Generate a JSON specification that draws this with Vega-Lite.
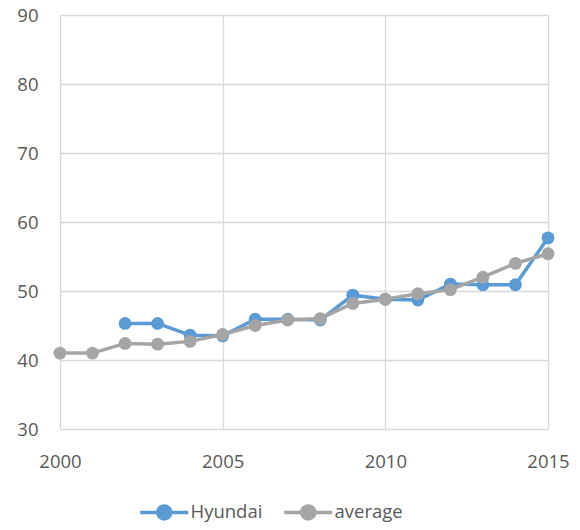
{
  "$schema": "https://vega.github.io/schema/vega-lite/v6.json",
  "width": 488,
  "height": 414,
  "autosize": {"type": "none"},
  "padding": {"left": 60, "top": 15, "right": 32, "bottom": 101},
  "background": "white",
  "config": {
    "view": {"stroke": null},
    "font": "Open Sans",
    "axis": {"labelFont": "Open Sans", "labelColor": "#595959", "labelFontSize": 18.5, "gridColor": "#d9d9d9", "gridWidth": 1.3, "domain": false, "ticks": false, "title": null, "labelFlush": false}
  },
  "data": {
    "values": [
      {"year": 2002, "series": "Hyundai", "value": 45.3},
      {"year": 2003, "series": "Hyundai", "value": 45.3},
      {"year": 2004, "series": "Hyundai", "value": 43.6},
      {"year": 2005, "series": "Hyundai", "value": 43.5},
      {"year": 2006, "series": "Hyundai", "value": 45.9},
      {"year": 2007, "series": "Hyundai", "value": 45.9},
      {"year": 2008, "series": "Hyundai", "value": 45.8},
      {"year": 2009, "series": "Hyundai", "value": 49.4},
      {"year": 2010, "series": "Hyundai", "value": 48.8},
      {"year": 2011, "series": "Hyundai", "value": 48.7},
      {"year": 2012, "series": "Hyundai", "value": 51.0},
      {"year": 2013, "series": "Hyundai", "value": 50.9},
      {"year": 2014, "series": "Hyundai", "value": 50.9},
      {"year": 2015, "series": "Hyundai", "value": 57.7},
      {"year": 2000, "series": "average", "value": 41.0},
      {"year": 2001, "series": "average", "value": 41.0},
      {"year": 2002, "series": "average", "value": 42.4},
      {"year": 2003, "series": "average", "value": 42.3},
      {"year": 2004, "series": "average", "value": 42.7},
      {"year": 2005, "series": "average", "value": 43.7},
      {"year": 2006, "series": "average", "value": 45.0},
      {"year": 2007, "series": "average", "value": 45.8},
      {"year": 2008, "series": "average", "value": 46.0},
      {"year": 2009, "series": "average", "value": 48.2},
      {"year": 2010, "series": "average", "value": 48.8},
      {"year": 2011, "series": "average", "value": 49.6},
      {"year": 2012, "series": "average", "value": 50.2},
      {"year": 2013, "series": "average", "value": 52.0},
      {"year": 2014, "series": "average", "value": 54.0},
      {"year": 2015, "series": "average", "value": 55.4}
    ]
  },
  "encoding": {
    "x": {"field": "year", "type": "quantitative", "scale": {"domain": [2000, 2015], "nice": false, "zero": false},
          "axis": {"values": [2000, 2005, 2010, 2015], "format": "d", "labelPadding": 23, "labelBaseline": "top"}},
    "y": {"field": "value", "type": "quantitative", "scale": {"domain": [30, 90], "nice": false, "zero": false},
          "axis": {"values": [30, 40, 50, 60, 70, 80, 90], "labelPadding": 22}},
    "color": {"field": "series", "type": "nominal", "title": null,
              "scale": {"domain": ["Hyundai", "average"], "range": ["#5B9BD5", "#A5A5A5"]},
              "legend": {"orient": "none", "direction": "horizontal", "legendX": 95, "legendY": 488,
                         "symbolType": "M-3.7,0L3.7,0M1,0A1,1,0,1,1,-1,0A1,1,0,1,1,1,0Z",
                         "symbolSize": 169, "symbolStrokeWidth": 3, "labelOffset": 17,
                         "labelFontSize": 18.5, "labelColor": "#595959", "labelFont": "Open Sans",
                         "columnPadding": 14,
                         "encode": {"symbols": {"update": {"shape": {"value": "M-3.7,0L3.7,0M1,0A1,1,0,1,1,-1,0A1,1,0,1,1,1,0Z"}, "fill": {"scale": "color", "field": "value"}, "stroke": {"scale": "color", "field": "value"}, "fillOpacity": {"value": 1}, "strokeWidth": {"value": 3.5}, "size": {"value": 169}}}}}}
  },
  "layer": [
    {"transform": [{"filter": "datum.series === 'Hyundai'"}], "mark": {"type": "line", "strokeWidth": 3.5}},
    {"transform": [{"filter": "datum.series === 'Hyundai'"}], "mark": {"type": "point", "filled": true, "opacity": 1, "size": 165}},
    {"transform": [{"filter": "datum.series === 'average'"}], "mark": {"type": "line", "strokeWidth": 3.5}},
    {"transform": [{"filter": "datum.series === 'average'"}], "mark": {"type": "point", "filled": true, "opacity": 1, "size": 165}}
  ]
}
